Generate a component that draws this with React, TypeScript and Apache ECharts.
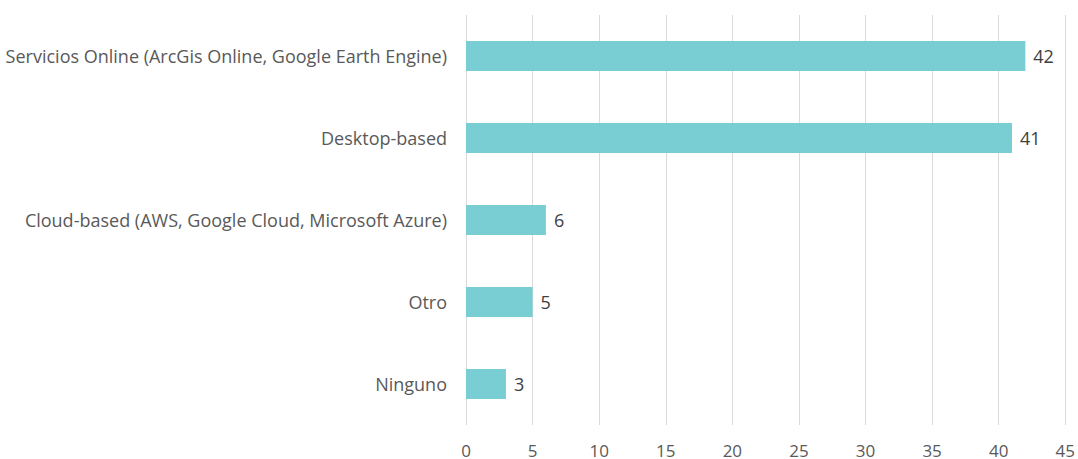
import React, { useEffect, useRef } from "react";
import * as echarts from "echarts";

const categories = [
  "Servicios Online (ArcGis Online, Google Earth Engine)",
  "Desktop-based",
  "Cloud-based (AWS, Google Cloud, Microsoft Azure)",
  "Otro",
  "Ninguno",
];
const values = [42, 41, 6, 5, 3];
const xTicks = { min: 0, max: 45, interval: 5 };

export default function App() {
  const ref = useRef<HTMLDivElement>(null);
  useEffect(() => {
    if (!ref.current) return;
    const chart = echarts.init(ref.current, undefined, { renderer: "svg" });
    chart.setOption({
      animation: false,
      textStyle: { fontFamily: "Open Sans" },
      grid: { left: 466, right: 12, top: 15, bottom: 33, containLabel: false },
      xAxis: {
        type: "value",
        min: xTicks.min,
        max: xTicks.max,
        interval: xTicks.interval,
        axisLine: { show: false },
        axisTick: { show: false },
        splitLine: { show: true, lineStyle: { color: "#d9d9d9", width: 1 } },
        axisLabel: {
          color: "#595959",
          fontSize: 17,
          lineHeight: 15,
          margin: 18,
          fontFamily: "Open Sans",
        },
      },
      yAxis: {
        type: "category",
        data: categories,
        inverse: true,
        axisLine: { show: false },
        axisTick: { show: false },
        axisLabel: { color: "#595959", fontSize: 18, margin: 19, fontFamily: "Open Sans" },
      },
      series: [
        {
          type: "bar",
          data: values,
          barWidth: 30,
          itemStyle: { color: "#78ced3" },
          label: {
            show: true,
            position: "right",
            distance: 8,
            color: "#404040",
            fontSize: 18,
            fontFamily: "Open Sans",
          },
        },
      ],
    });
    return () => chart.dispose();
  }, []);
  return (
    <div
      ref={ref}
      style={{ position: "fixed", left: 0, top: 0, width: 1078, height: 459, background: "#fff" }}
    />
  );
}
